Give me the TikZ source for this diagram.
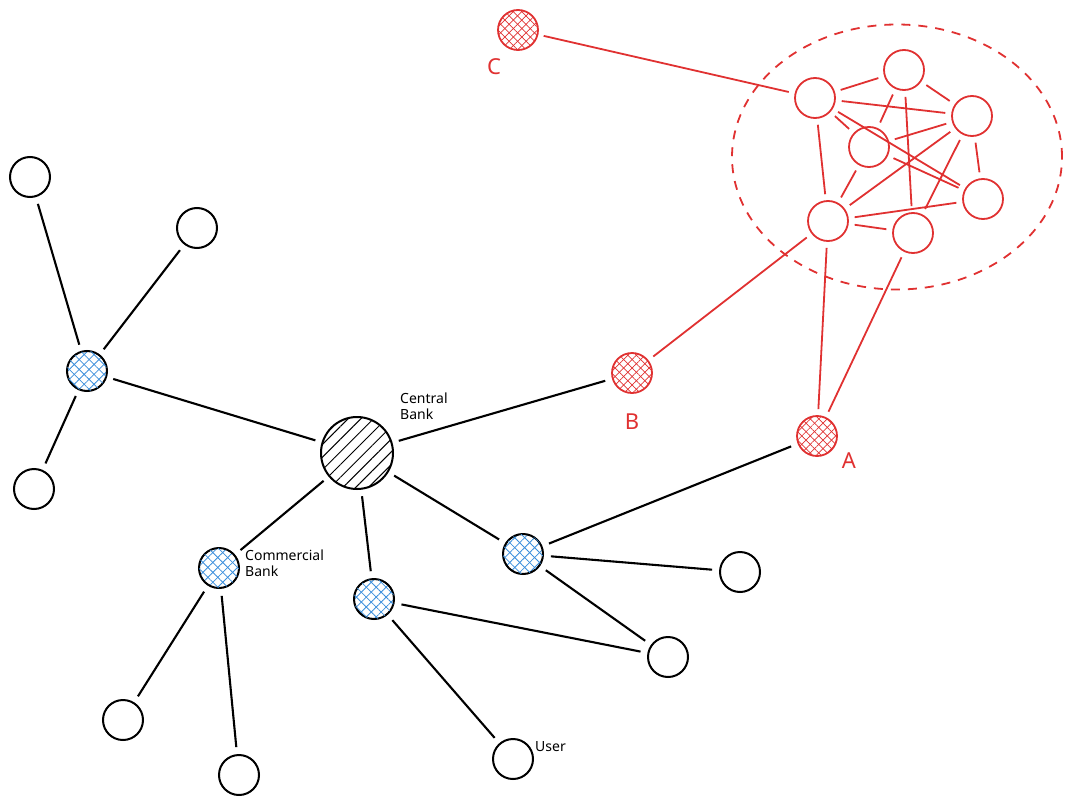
\documentclass[tikz,border=0pt]{standalone}
\usepackage{fontspec}
\setmainfont{Noto Sans}
\usetikzlibrary{patterns.meta,shapes.geometric}
\definecolor{xred}{HTML}{E03131}
\definecolor{xblue}{HTML}{3B8EDB}
\tikzset{
  x=1pt,y=-1pt,
  nd/.style={circle,draw=black,line width=2pt,minimum size=40pt,inner sep=0pt},
  rnd/.style={circle,draw=xred,line width=1.8pt,minimum size=40pt,inner sep=0pt},
  bhub/.style={nd,pattern={Lines[angle=45,distance=7pt,line width=0.8pt]},pattern color=xblue,
     postaction={pattern={Lines[angle=-45,distance=7pt,line width=0.8pt]},pattern color=xblue}},
  rhub/.style={rnd,pattern={Lines[angle=45,distance=6pt,line width=0.7pt]},pattern color=xred,
     postaction={pattern={Lines[angle=-45,distance=6pt,line width=0.7pt]},pattern color=xred}},
  central/.style={nd,minimum size=72pt,pattern={Lines[angle=45,distance=9pt,line width=1pt]},pattern color=black},
  edge/.style={line width=2.1pt,shorten <=7pt,shorten >=7pt},
  redge/.style={xred,line width=1.8pt,shorten <=6pt,shorten >=6pt},
  lab/.style={font=\fontsize{14}{16}\selectfont,align=left,inner sep=0pt},
  rlab/.style={font=\fontsize{22}{24}\selectfont,text=xred,inner sep=0pt},
}
\begin{document}
\begin{tikzpicture}
\useasboundingbox (0,0) rectangle (1078,805);
% black nodes
\node[nd] (n1) at (30,177) {};
\node[nd] (n2) at (197,228) {};
\node[bhub] (h1) at (87,371) {};
\node[nd] (n3) at (34,489) {};
\node[central] (cb) at (357,453) {};
\node[bhub] (cm) at (219,568) {};
\node[bhub] (h3) at (374,599) {};
\node[bhub] (h4) at (523,554) {};
\node[nd] (n4) at (740,572) {};
\node[nd] (n5) at (668,657) {};
\node[nd] (n6) at (123,720) {};
\node[nd] (n7) at (239,775) {};
\node[nd] (us) at (513,759) {};
% red hubs
\node[rhub] (C) at (518,30) {};
\node[rhub] (B) at (632,373) {};
\node[rhub] (A) at (817,436) {};
% cluster
\node[ellipse,draw=xred,line width=1.8pt,dash pattern=on 9pt off 8pt,minimum width=330pt,minimum height=265pt] (cl) at (897,157) {};
\node[rnd] (p1) at (815,98) {};
\node[rnd] (p2) at (904,70) {};
\node[rnd] (p3) at (972,116) {};
\node[rnd] (p4) at (869,147) {};
\node[rnd] (p5) at (983,199) {};
\node[rnd] (p6) at (828,221) {};
\node[rnd] (p7) at (913,233) {};
% labels
\node[lab,anchor=north west] (lcb) at (400,393) {Central\\Bank};
\node[lab,anchor=north west] (lcm) at (245,550) {Commercial\\Bank};
\node[lab,anchor=south west] (lus) at (535,752) {User};
\node[rlab] (lC) at (494,67) {C};
\node[rlab] (lB) at (632,422) {B};
\node[rlab] (lA) at (849,461) {A};
% black edges
\draw[edge] (n1) -- (h1);
\draw[edge] (n2) -- (h1);
\draw[edge] (h1) -- (n3);
\draw[edge] (h1) -- (cb);
\draw[edge] (cb) -- (B);
\draw[edge] (cb) -- (cm);
\draw[edge] (cb) -- (h3);
\draw[edge] (cb) -- (h4);
\draw[edge] (h4) -- (A);
\draw[edge] (h4) -- (n4);
\draw[edge] (h4) -- (n5);
\draw[edge] (h3) -- (n5);
\draw[edge] (h3) -- (us);
\draw[edge] (cm) -- (n6);
\draw[edge] (cm) -- (n7);
% red edges
\draw[redge] (C) -- (p1);
\draw[redge] (p6) -- (B);
\draw[redge] (p6) -- (A);
\draw[redge] (p7) -- (A);
\draw[redge] (p1) -- (p2);
\draw[redge] (p1) -- (p3);
\draw[redge] (p1) -- (p5);
\draw[redge] (p1) -- (p4);
\draw[redge] (p1) -- (p6);
\draw[redge] (p2) -- (p3);
\draw[redge] (p2) -- (p4);
\draw[redge] (p2) -- (p7);
\draw[redge] (p3) -- (p4);
\draw[redge] (p3) -- (p6);
\draw[redge] (p3) -- (p7);
\draw[redge] (p3) -- (p5);
\draw[redge] (p4) -- (p5);
\draw[redge] (p4) -- (p6);
\draw[redge] (p6) -- (p5);
\draw[redge] (p6) -- (p7);
\end{tikzpicture}
\end{document}
